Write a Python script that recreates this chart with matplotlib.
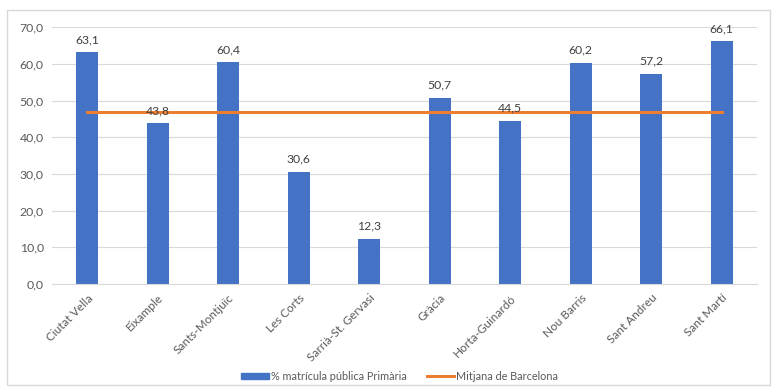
import matplotlib.pyplot as plt
import numpy as np
from matplotlib.patches import Rectangle
from matplotlib.lines import Line2D

districts = ["Ciutat Vella", "Eixample", "Sants-Montjuïc", "Les Corts", "Sarrià-St. Gervasi",
             "Gràcia", "Horta-Guinardó", "Nou Barris", "Sant Andreu", "Sant Martí"]
pct_public = [63.1, 43.8, 60.4, 30.6, 12.3, 50.7, 44.5, 60.2, 57.2, 66.1]
bcn_mean = [46.8] * len(districts)
y_ticks = [0, 10, 20, 30, 40, 50, 60, 70]

plt.rcParams['font.family'] = ['Lato', 'DejaVu Sans']
grey = "#595959"

fig = plt.figure(figsize=(7.72, 3.87), dpi=100)
ax = fig.add_axes([0.0674, 0.266, 0.913, 0.664])

x = np.arange(len(districts))
ax.bar(x, pct_public, width=0.31, color="#4472C4", zorder=2)
ax.plot(x, bcn_mean, color="#ED7D31", linewidth=2.2, zorder=3)

# data labels, decimal comma
for xi, v in zip(x, pct_public):
    ax.text(xi, v + 2.0, f"{v:.1f}".replace(".", ","), ha="center", va="bottom",
            fontsize=8.8, color="#404040")

ax.set_xlim(-0.5, len(districts) - 0.5)
ax.set_ylim(0, 70)
ax.set_yticks(y_ticks)
ax.set_yticklabels([f"{t:.1f}".replace(".", ",") for t in y_ticks], fontsize=8.8, color=grey)
ax.yaxis.grid(True, color="#D9D9D9", linewidth=0.8, zorder=0)
ax.set_axisbelow(True)
ax.set_xticks(x)
ax.set_xticklabels(districts, rotation=45, ha="right", rotation_mode="anchor",
                   fontsize=8.5, color=grey)
ax.tick_params(axis="both", length=0, pad=6)
for s in ["top", "right", "left"]:
    ax.spines[s].set_visible(False)
ax.spines["bottom"].set_color("#D9D9D9")

handles = [Rectangle((0, 0), 1, 1, color="#4472C4"),
           Line2D([0], [0], color="#ED7D31", linewidth=2.2)]
fig.legend(handles, ["% matrícula pública Primària", "Mitjana de Barcelona"],
           loc="center", bbox_to_anchor=(0.518, 0.028), ncol=2, frameon=False,
           fontsize=7.8, labelcolor=grey, handlelength=2.5, columnspacing=1.8,
           handleheight=0.45, handletextpad=0.25)

# light border around the whole chart
fig.patches.append(Rectangle((0.009, 0.005), 0.988, 0.97, transform=fig.transFigure,
                             fill=False, edgecolor="#D9D9D9", linewidth=1))

fig.savefig("out.png", dpi=100)
